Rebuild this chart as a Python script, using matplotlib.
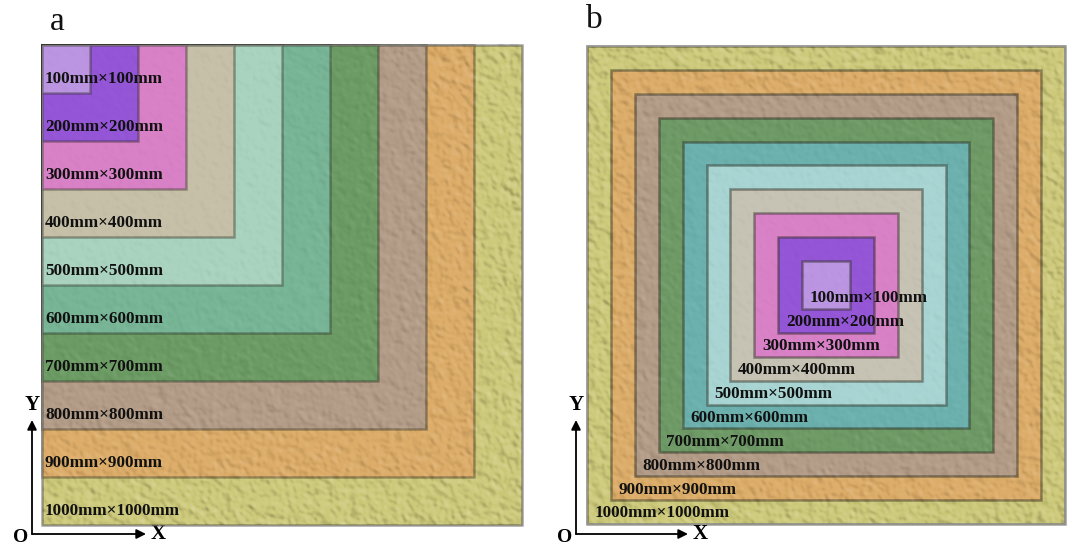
import numpy as np
import matplotlib
matplotlib.use("Agg")
import matplotlib.pyplot as plt
from matplotlib.patches import Rectangle

plt.rcParams.update({
    "font.family": ["Liberation Serif", "DejaVu Serif"],
})

# square side lengths (mm) and labels
sizes = [1000, 900, 800, 700, 600, 500, 400, 300, 200, 100]
labels = [f"{s}mm\u00d7{s}mm" for s in sizes]

# fill colours, largest to smallest
colors_a = ["#CDC97A", "#DCAC68", "#B39C87", "#6C9B64", "#77B596",
            "#A9D3BF", "#C6C0A8", "#D981C6", "#9456D6", "#BB95E2"]
colors_b = ["#CDC97A", "#DCAC68", "#B39C87", "#6E9A66", "#6CB1AE",
            "#A8D5D3", "#C6C3B4", "#D981C6", "#9456D6", "#BB95E2"]

PX = 0.48      # pixels per mm, panel a
PXB = 0.478    # pixels per mm, panel b


def relief(n, seed, sigma):
    """Embossed rock-like grain, roughly in [-1, 1]."""
    rng = np.random.default_rng(seed)
    field = rng.standard_normal((n, n))
    f = np.fft.fftfreq(n)
    k2 = f[:, None] ** 2 + f[None, :] ** 2
    sm = np.real(np.fft.ifft2(np.fft.fft2(field) * np.exp(-2 * (np.pi * sigma) ** 2 * k2)))
    gy, gx = np.gradient(sm)
    r = gx - gy
    return r / r.std()


def grain_rgba(r, weight, amp=0.055):
    rgba = np.zeros(r.shape + (4,))
    rgba[..., :3] = (r > 0)[..., None] * 1.0
    rgba[..., 3] = np.clip(np.abs(r) * amp * weight, 0, 0.25)
    return rgba


fig = plt.figure(figsize=(10.68, 5.47), dpi=100)

# ---- panel a: squares share the top-left corner ----
ax = fig.add_axes([0, 0, 534 / 1068, 1])
ax.set_xlim(-42 / PX, 492 / PX)
ax.set_ylim(-22 / PX, 525 / PX)
ax.axis("off")

for s, c in zip(sizes, colors_a):
    ax.add_patch(Rectangle((0, 1000 - s), s, s, facecolor=c,
                           edgecolor=(0.15, 0.15, 0.1, 0.38), linewidth=1.8, zorder=2))
ax.add_patch(Rectangle((0, 0), 1000, 1000, facecolor="none",
                       edgecolor=(0.55, 0.55, 0.55, 0.6), linewidth=1.0, zorder=4))

n = 480
r = relief(n, 3, 1.7) + 0.4 * relief(n, 11, 3.5)
yy, xx = np.mgrid[0:n, 0:n] / n
band = np.maximum(xx, yy)
ax.imshow(grain_rgba(r, 0.12 + 1.0 * band ** 3), extent=(0, 1000, 0, 1000),
          origin="upper", interpolation="bilinear", zorder=3)

for s, lab in zip(sizes, labels):
    ax.text(6, 1000 - s + 30, lab, fontsize=12.3, fontweight="bold",
            color="#111111", ha="left", va="center", zorder=5)

ax.text(15 / PX, 503 / PX, "a", fontsize=24, color="#111111",
        ha="center", va="center")

# ---- panel b: concentric squares ----
bx = fig.add_axes([534 / 1068, 0, 534 / 1068, 1])
cx, cy = 826, 285
bx.set_xlim((534 - cx) / PXB, (1068 - cx) / PXB)
bx.set_ylim((cy - 547) / PXB, cy / PXB)
bx.axis("off")

for s, c in zip(sizes, colors_b):
    bx.add_patch(Rectangle((-s / 2, -s / 2), s, s, facecolor=c,
                           edgecolor=(0.15, 0.15, 0.1, 0.45), linewidth=1.8, zorder=2))
bx.add_patch(Rectangle((-500, -500), 1000, 1000, facecolor="none",
                       edgecolor=(0.6, 0.6, 0.6, 0.8), linewidth=1.2, zorder=4))

rb = relief(n, 5, 1.7) + 0.4 * relief(n, 17, 3.5)
band_b = np.maximum(np.abs(xx - 0.5), np.abs(yy - 0.5)) * 2
bx.imshow(grain_rgba(rb, 0.12 + 1.0 * band_b ** 3), extent=(-500, 500, -500, 500),
          origin="upper", interpolation="bilinear", zorder=3)

for s, lab in zip(sizes, labels):
    bx.text(-s / 2 + 16, -s / 2 + 22, lab, fontsize=12.3, fontweight="bold",
            color="#111111", ha="left", va="center", zorder=5)

bx.text((594 - cx) / PXB, (cy - 20) / PXB, "b", fontsize=24, color="#111111",
        ha="center", va="center")

# ---- coordinate arrows ----
arrow = dict(arrowstyle="-|>", color="black", lw=1.3, mutation_scale=14,
             shrinkA=0, shrinkB=0)


def axes_arrows(a, ox, oy, dy, dx, o_dx, o_dy):
    a.annotate("", xy=(ox, oy + dy), xytext=(ox, oy), arrowprops=arrow,
               annotation_clip=False)
    a.annotate("", xy=(ox + dx, oy), xytext=(ox, oy), arrowprops=arrow,
               annotation_clip=False)
    a.text(ox, oy + dy + 32, "Y", fontsize=15, fontweight="bold",
           ha="center", va="center")
    a.text(ox + dx + 26, oy, "X", fontsize=15, fontweight="bold",
           ha="center", va="center")
    a.text(ox + o_dx, oy - o_dy, "O", fontsize=14, fontweight="bold",
           ha="center", va="bottom")


axes_arrows(ax, -10 / PX, -9 / PX, 114 / PX, 114 / PX, -24, 12 / PX)
axes_arrows(bx, (576 - cx) / PXB, (cy - 534) / PXB, 114 / PXB, 112 / PXB, -24, 12 / PXB)

fig.savefig("out.png", dpi=100)
